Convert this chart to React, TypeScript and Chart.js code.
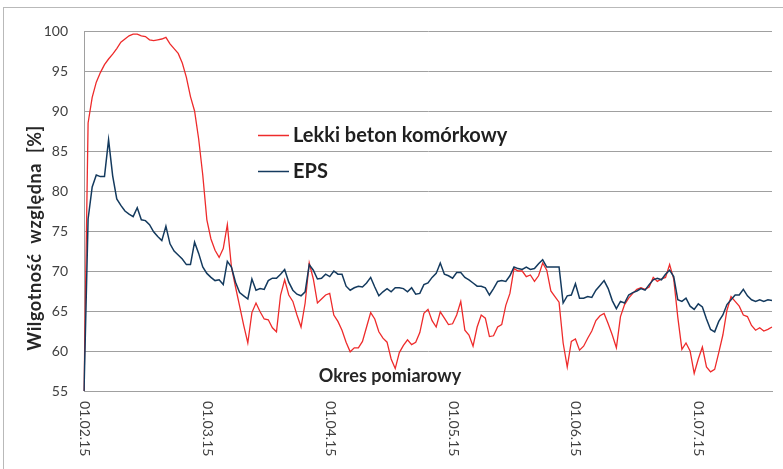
import React, { useEffect, useRef } from "react";
import { Chart, registerables } from "chart.js";

Chart.register(...registerables);

// Month labels shown on the category axis, one every `pointsPerMonth` readings
const monthLabels = ["01.02.15", "01.03.15", "01.04.15", "01.05.15", "01.06.15", "01.07.15"];
const pointsPerMonth = 30;

const seriesNames = ["Lekki beton komórkowy", "EPS"];

// Relative humidity [%] – aerated concrete
const betonValues = [
  55, 88.5, 91.7, 93.6, 94.8, 95.8, 96.5, 97.1, 97.8, 98.6,
  99.0, 99.4, 99.6, 99.6, 99.4, 99.3, 98.9, 98.8, 98.9, 99.0,
  99.2, 98.4, 97.8, 97.2, 96.0, 94.2, 91.8, 90.0, 86.5, 82.0,
  76.4, 74.0, 72.6, 71.7, 72.8, 75.8, 70.5, 68.0, 65.6, 63.2,
  61.0, 64.8, 66.0, 64.9, 64.0, 63.9, 62.9, 62.4, 67.0, 68.9,
  67.0, 66.2, 64.5, 63.0, 66.0, 71.0, 69.0, 66.0, 66.5, 67.0,
  67.2, 64.5, 63.7, 62.6, 61.1, 59.9, 60.4, 60.4, 61.2, 63.0,
  64.8, 64.0, 62.4, 61.6, 61.1, 59.0, 57.8, 59.8, 60.7, 61.4,
  60.8, 61.1, 62.3, 64.7, 65.2, 63.8, 63.0, 64.9, 64.1, 63.3,
  63.4, 64.5, 66.2, 62.6, 62.0, 60.6, 63.0, 64.5, 64.1, 61.8,
  61.9, 63.0, 63.3, 65.7, 67.2, 70.3, 70.0, 70.0, 69.3, 69.5,
  68.7, 69.4, 71.0, 70.1, 67.5, 66.8, 66.1, 61.0, 58.0, 61.2,
  61.5, 60.1, 60.6, 61.6, 62.5, 63.8, 64.4, 64.7, 63.4, 62.0,
  60.4, 64.3, 65.8, 66.6, 67.2, 67.7, 67.9, 67.7, 68.0, 69.2,
  68.7, 69.0, 69.2, 70.8, 69.0, 64.2, 60.2, 61.0, 60.0, 57.2,
  59.0, 60.5, 58.0, 57.4, 57.7, 59.8, 62.0, 65.1, 66.8, 66.2,
  65.6, 64.5, 64.3, 63.2, 62.6, 62.9, 62.5, 62.7, 63.0,
];

// Relative humidity [%] – EPS
const epsValues = [
  55, 76.5, 80.5, 82.0, 81.8, 81.8, 86.4, 81.9, 79.0, 78.2,
  77.5, 77.1, 76.8, 77.9, 76.4, 76.3, 75.8, 74.9, 74.3, 73.8,
  75.6, 73.4, 72.5, 72.0, 71.5, 70.8, 70.8, 73.6, 72.2, 70.5,
  69.7, 69.2, 68.8, 68.9, 68.3, 71.2, 70.5, 68.6, 67.3, 66.9,
  66.5, 69.0, 67.6, 67.8, 67.7, 68.8, 69.1, 69.1, 69.6, 70.2,
  68.6, 67.6, 67.1, 66.9, 67.4, 70.8, 70.1, 69.0, 69.1, 69.6,
  69.3, 70.0, 69.6, 69.6, 68.1, 67.6, 67.9, 68.1, 68.0, 68.5,
  69.2, 68.0, 66.9, 67.4, 67.8, 67.4, 67.9, 67.9, 67.8, 67.4,
  67.9, 67.1, 67.2, 68.3, 68.5, 69.2, 69.7, 71.0, 69.6, 69.4,
  69.1, 69.8, 69.8, 69.2, 68.9, 68.5, 68.1, 68.1, 67.9, 67.0,
  67.8, 68.7, 68.8, 68.7, 69.4, 70.5, 70.3, 70.2, 70.5, 70.2,
  70.3, 70.9, 71.4, 70.5, 70.5, 70.5, 70.5, 66.0, 66.9, 67.0,
  68.4, 66.6, 66.6, 66.8, 66.7, 67.6, 68.2, 68.8, 67.8, 66.3,
  65.3, 66.2, 66.0, 67.0, 67.3, 67.5, 67.8, 67.6, 68.3, 68.9,
  69.1, 68.9, 69.6, 70.1, 69.3, 66.4, 66.2, 66.6, 65.6, 65.2,
  65.9, 65.5, 64.0, 62.7, 62.4, 63.7, 64.5, 65.8, 66.4, 67.0,
  67.0, 67.7, 66.9, 66.4, 66.2, 66.4, 66.2, 66.4, 66.3,
];

const yMin = 55;
const yMax = 100;
const yStep = 5;

const xAxisTitle = "Okres pomiarowy";
const yAxisTitle = "Wilgotność  względna  [%]";

const seriesColors = ["#ee2b2b", "#143a5e"];

const categories = betonValues.map((_, i) =>
  i % pointsPerMonth === 0 ? monthLabels[i / pointsPerMonth] ?? "" : ""
);

const FONT = "Lato, 'Open Sans', sans-serif";

// Frame, rotated date labels, axis titles and the in-plot legend
const decorations = {
  id: "decorations",
  beforeDraw(chart: any) {
    const ctx = chart.ctx;
    ctx.save();
    ctx.fillStyle = "#ffffff";
    ctx.fillRect(0, 0, chart.width, chart.height);
    ctx.strokeStyle = "#b9b9b9";
    ctx.lineWidth = 1;
    ctx.strokeRect(3.5, 7.5, chart.width + 20, chart.height + 20);
    ctx.restore();
  },
  afterDraw(chart: any) {
    const ctx = chart.ctx;
    const xs = chart.scales.x;
    const area = chart.chartArea;
    ctx.save();

    // date labels, rotated clockwise
    ctx.font = `14px ${FONT}`;
    ctx.fillStyle = "#404040";
    ctx.textAlign = "left";
    ctx.textBaseline = "middle";
    (chart.data.labels as string[]).forEach((lab, i) => {
      if (!lab) return;
      const px = xs.getPixelForValue(i);
      ctx.save();
      ctx.translate(px + 0.5, area.bottom + 10);
      ctx.rotate(Math.PI / 2);
      ctx.fillText(lab, 0, 0);
      ctx.restore();
    });

    // x axis title inside the plot
    ctx.font = `bold 18px ${FONT}`;
    ctx.fillStyle = "#262626";
    ctx.textAlign = "center";
    ctx.textBaseline = "middle";
    ctx.fillText(xAxisTitle, 390, 376);

    // y axis title
    ctx.save();
    ctx.translate(35, 238);
    ctx.rotate(-Math.PI / 2);
    ctx.font = `bold 18px ${FONT}`;
    (ctx as any).letterSpacing = "0.6px";
    ctx.fillText(yAxisTitle, 0, 0);
    ctx.restore();

    // legend
    ctx.font = `bold 20px ${FONT}`;
    ctx.textAlign = "left";
    ctx.textBaseline = "middle";
    chart.data.datasets.forEach((ds: any, k: number) => {
      const y = 135 + k * 36;
      ctx.strokeStyle = ds.borderColor;
      ctx.lineWidth = 1.5;
      ctx.beginPath();
      ctx.moveTo(258, y + 0.5);
      ctx.lineTo(289, y + 0.5);
      ctx.stroke();
      ctx.fillStyle = "#1f1f1f";
      ctx.fillText(ds.label, 293, y + 1);
    });

    ctx.restore();
  },
};

export default function App() {
  const canvasRef = useRef<HTMLCanvasElement | null>(null);

  useEffect(() => {
    if (!canvasRef.current) return;
    const chart = new Chart(canvasRef.current, {
      type: "line",
      data: {
        labels: categories,
        datasets: [
          {
            label: seriesNames[0],
            data: betonValues,
            borderColor: seriesColors[0],
            borderWidth: 1.3,
            pointRadius: 0,
            fill: false,
            order: 1,
          },
          {
            label: seriesNames[1],
            data: epsValues,
            borderColor: seriesColors[1],
            borderWidth: 1.5,
            pointRadius: 0,
            fill: false,
            order: 0,
          },
        ],
      },
      options: {
        responsive: false,
        animation: false,
        devicePixelRatio: 1,
        layout: { padding: { top: 31, right: 11, left: 0, bottom: 0 } },
        plugins: { legend: { display: false }, tooltip: { enabled: false } },
        elements: { line: { tension: 0 } },
        scales: {
          x: {
            type: "category",
            offset: false,
            grid: { display: false },
            border: { display: true, color: "#a0a0a0" },
            ticks: { display: false, autoSkip: false },
            afterFit: (s: any) => {
              s.height = 78;
            },
          },
          y: {
            min: yMin,
            max: yMax,
            ticks: {
              stepSize: yStep,
              padding: 16,
              color: "#404040",
              font: { size: 14, family: FONT },
            },
            grid: { color: "#a0a0a0", drawTicks: false },
            border: { color: "#a0a0a0" },
            afterFit: (s: any) => {
              s.width = 84;
            },
          },
        },
      },
      plugins: [decorations],
    });
    return () => chart.destroy();
  }, []);

  return (
    <div style={{ position: "absolute", left: 0, top: 0, width: 783, height: 469, overflow: "hidden" }}>
      <canvas ref={canvasRef} width={783} height={469} style={{ display: "block" }} />
    </div>
  );
}
